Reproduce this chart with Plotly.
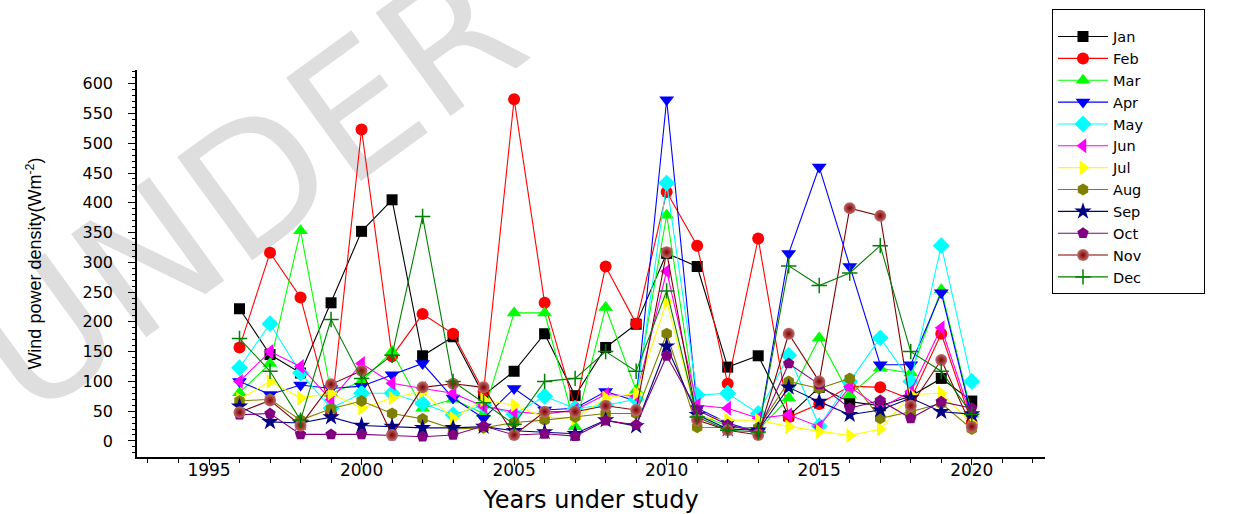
import plotly.graph_objects as go

years = list(range(1996, 2021))

jan = [222, 145, 114, 232, 352, 405, 143, 175, 77, 117, 180, 76, 157, 196, 315, 293, 124, 143, 42, 90, 66, 59, 75, 105, 67]
feb = [157, 316, 241, 46, 523, 142, 213, 180, 83, 574, 232, 55, 293, 197, 418, 328, 96, 340, 40, 62, 92, 90, 70, 180, 30]
mar = [81, 130, 353, 80, 100, 150, 55, 70, 46, 215, 215, 24, 224, 85, 379, 45, 25, 18, 72, 173, 77, 122, 114, 254, 45]
apr = [100, 78, 94, 88, 92, 111, 130, 72, 38, 88, 52, 55, 83, 67, 573, 55, 30, 15, 315, 460, 293, 128, 128, 249, 40]
may = [123, 197, 114, 55, 80, 80, 63, 44, 60, 45, 75, 55, 60, 70, 433, 77, 80, 46, 144, 25, 100, 173, 100, 328, 100]
jun = [100, 150, 125, 69, 130, 97, 88, 80, 58, 49, 45, 52, 78, 75, 285, 60, 55, 38, 44, 24, 91, 55, 83, 190, 38]
jul = [70, 100, 72, 80, 55, 72, 83, 38, 69, 60, 40, 38, 72, 80, 234, 40, 35, 35, 24, 16, 9, 20, 78, 80, 30]
aug = [67, 70, 35, 54, 67, 46, 37, 20, 22, 31, 35, 40, 46, 46, 180, 23, 22, 22, 100, 88, 105, 38, 49, 63, 20]
sep = [58, 32, 30, 40, 26, 24, 22, 22, 24, 17, 15, 12, 35, 25, 159, 44, 20, 18, 90, 66, 44, 52, 72, 49, 45]
oct_ = [44, 46, 11, 11, 11, 9, 7, 10, 25, 10, 12, 8, 34, 27, 143, 52, 27, 15, 130, 95, 55, 68, 38, 66, 55]
nov = [48, 68, 26, 95, 118, 10, 90, 96, 90, 10, 49, 49, 59, 52, 317, 35, 18, 10, 180, 100, 391, 378, 59, 136, 24]
dec = [172, 117, 35, 204, 105, 144, 377, 100, 64, 28, 100, 105, 150, 117, 252, 40, 18, 15, 294, 261, 282, 328, 150, 117, 45]

months = ["Jan", "Feb", "Mar", "Apr", "May", "Jun", "Jul", "Aug", "Sep", "Oct", "Nov", "Dec"]
series = [jan, feb, mar, apr, may, jun, jul, aug, sep, oct_, nov, dec]
colors = ["#000000", "#FF0000", "#00FF00", "#0000FF", "#00FFFF", "#FF00FF",
          "#FFFF00", "#808000", "#000080", "#800080", "#800000", "#008000"]
symbols = ["square", "circle", "triangle-up", "triangle-down", "diamond", "triangle-left",
           "triangle-right", "hexagon", "star", "pentagon", "circle", "cross-thin"]
sizes = [11, 12, 13, 13, 13, 13, 13, 12, 13, 12, 12, 11]

x_ticks = [1995, 2000, 2005, 2010, 2015, 2020]
y_ticks = list(range(0, 601, 50))

fig = go.Figure()
pad = "\u00a0" * 12
for name, vals, col, sym, sz in zip(months, series, colors, symbols, sizes):
    marker = dict(symbol=sym, size=sz, color=col, line=dict(width=0))
    if name == "Nov":
        marker["color"] = "#c07070"
        marker["gradient"] = dict(type="radial", color="#800000")
    if name == "Dec":
        marker["line"] = dict(width=1.5, color=col)
    fig.add_trace(go.Scatter(
        x=years, y=vals, name=name + pad, mode="lines+markers",
        line=dict(color=col, width=1.1), marker=marker,
    ))

# watermark (drawn below everything)
fig.add_shape(type="rect", xref="paper", yref="paper",
              x0=0.107, x1=0.117, y0=0.713, y1=0.723,
              line=dict(width=0), fillcolor="rgba(0,0,0,0)", layer="below",
              label=dict(text="UNDER", textangle=-36,
                         textposition="middle center",
                         font=dict(family="DejaVu Sans", size=175, color="#dedede")))

fig.update_layout(
    width=1233, height=514,
    margin=dict(l=137, r=188, t=70, b=57, autoexpand=False),
    paper_bgcolor="white", plot_bgcolor="rgba(0,0,0,0)",
    font=dict(family="DejaVu Sans", color="black"),
    showlegend=True,
    legend=dict(x=1.0077, y=1.157, xanchor="left", yanchor="top",
                bordercolor="black", borderwidth=1, bgcolor="white",
                font=dict(family="DejaVu Sans", size=14.5, color="black"),
                title=dict(text="\u00a0", font=dict(size=8)),
                itemwidth=50, tracegroupgap=0, maxheight=600),
    xaxis=dict(range=[1992.64, 2022.4], tickvals=x_ticks,
               ticktext=[str(v) for v in x_ticks],
               automargin=False,
               showgrid=False, zeroline=False,
               showline=True, linecolor="black", linewidth=1.5,
               ticks="outside", ticklen=6, tickwidth=1.2, tickcolor="black",
               minor=dict(dtick=1, tick0=1993, ticks="outside", ticklen=4,
                          tickwidth=1, tickcolor="black", showgrid=False),
               ticklabelstandoff=-9,
               tickfont=dict(size=17, family="DejaVu Sans"),
               title=dict(text="Years under study",
                          font=dict(size=24, family="DejaVu Sans"), standoff=14)),
    yaxis=dict(range=[-27, 623], tickvals=y_ticks,
               automargin=False,
               showgrid=False, zeroline=False,
               showline=True, linecolor="black", linewidth=1.5,
               ticks="outside", ticklen=7, tickwidth=1.2, tickcolor="black",
               minor=dict(dtick=10, ticks="outside", ticklen=3.5,
                          tickwidth=1, tickcolor="black", showgrid=False),
               ticklabelstandoff=12,
               tickfont=dict(size=16, family="DejaVu Sans"),
               title=dict(text="Wind power density(Wm<sup>-2</sup>)",
                          font=dict(size=18, family="Liberation Sans"),
                          standoff=36)),
)

fig.write_html("out.html")
